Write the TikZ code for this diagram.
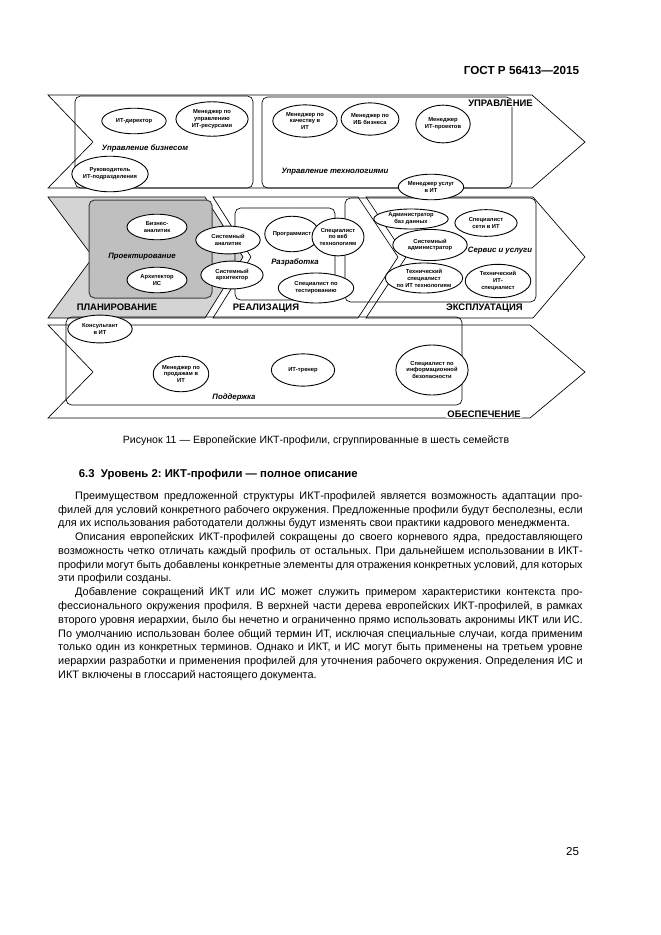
\documentclass[tikz,border=0pt]{standalone}
\usepackage{fontspec}
\setmainfont{Liberation Sans}
\usetikzlibrary{shapes.geometric}
\frenchspacing

\begin{document}
\begin{tikzpicture}[x=0.9pt, y=-0.9pt,
  band/.style={draw, line width=0.6pt, fill=white},
  planband/.style={band, fill=black!17},
  fambox/.style={draw, line width=0.6pt, rounded corners=5pt},
  designbox/.style={fambox, fill=black!25, draw=black!75, line width=0.9pt},
  prof/.style={ellipse, draw, fill=white, line width=0.8pt, inner sep=0pt,
               align=center, font=\fontsize{5.2}{6.2}\selectfont\bfseries},
  famlabel/.style={font=\fontsize{7}{8}\selectfont\bfseries\itshape},
  phase/.style={font=\fontsize{8.5}{9}\selectfont\bfseries, inner sep=1pt},
  bodytext/.style={text width=472pt, inner sep=0pt, align=justify,
                   font=\fontsize{9.8}{12.4}\selectfont},
]
\useasboundingbox (0,0) rectangle (661,935);

% page header
\node[anchor=east, font=\fontsize{10.5}{12}\selectfont\bfseries] (hdr) at (583,70) {ГОСТ Р 56413—2015};

% phase bands
\draw[band] (48,95) -- (532,95) -- (585,142) -- (532,188) -- (48,188) -- (93,142) -- cycle;
\draw[planband] (48,197) -- (205,197) -- (243,257) -- (205,318) -- (48,318) -- (93,257) -- cycle;
\draw[band] (213,197) -- (358,197) -- (398,257) -- (358,318) -- (213,318) -- (251,257) -- cycle;
\draw[band] (366,197) -- (533,197) -- (585,257) -- (533,318) -- (366,318) -- (406,257) -- cycle;
\draw[band] (48,325) -- (530,325) -- (585,372) -- (530,418) -- (48,418) -- (93,372) -- cycle;

% family boxes
\draw[fambox] (75,96) rectangle (253,188);
\draw[fambox] (262,97) rectangle (512,188);
\draw[designbox] (89,200) rectangle (212,298);
\draw[fambox] (235,208) rectangle (335,300);
\draw[fambox] (345,198) rectangle (536,302);
\draw[fambox] (66,317) rectangle (462,405);

% family and phase labels
\node[famlabel] (fbiz) at (145,148) {Управление бизнесом};
\node[famlabel] (ftech) at (335,172) {Управление технологиями};
\node[famlabel] (fdes) at (142,257) {Проектирование};
\node[famlabel] (fdev) at (295,262) {Разработка};
\node[famlabel] (fops) at (500,251) {Сервис и услуги};
\node[famlabel] (fsup) at (234,397) {Поддержка};

\node[phase, fill=white, anchor=east] (pupr) at (534,103) {УПРАВЛЕНИЕ};
\node[phase] (pplan) at (117,307) {ПЛАНИРОВАНИЕ};
\node[phase, fill=white] (preal) at (266,308) {РЕАЛИЗАЦИЯ};
\node[phase, fill=white, anchor=east] (pexpl) at (524,308) {ЭКСПЛУАТАЦИЯ};
\node[phase, fill=white, anchor=east] (pobes) at (522,414) {ОБЕСПЕЧЕНИЕ};

% profiles: management
\node[prof, minimum width=58pt, minimum height=23pt] (cio) at (134,121) {ИТ-директор};
\node[prof, minimum width=65pt, minimum height=31pt] (resmgr) at (212,119) {Менеджер по\\управлению\\ИТ-ресурсами};
\node[prof, minimum width=59pt, minimum height=32pt] (ithead) at (110,174) {Руководитель\\ИТ-подразделения};
\node[prof, minimum width=58pt, minimum height=29pt] (qamgr) at (305,121) {Менеджер по\\качеству в\\ИТ};
\node[prof, minimum width=52pt, minimum height=29pt] (secmgr) at (370,119) {Менеджер по\\ИБ бизнеса};
\node[prof, minimum width=49pt, minimum height=34pt] (projmgr) at (443,124) {Менеджер\\ИТ-проектов};
\node[prof, minimum width=43pt, minimum height=23pt] (svcmgr) at (431,187) {Менеджер услуг\\в ИТ};

% profiles: planning and development
\node[prof, minimum width=54pt, minimum height=23pt] (busan) at (157,227) {Бизнес-\\аналитик};
\node[prof, minimum width=54pt, minimum height=23pt] (isarch) at (157,280) {Архитектор\\ИС};
\node[prof, minimum width=58pt, minimum height=25pt] (sysan) at (228,240) {Системный\\аналитик};
\node[prof, minimum width=56pt, minimum height=25pt] (sysarch) at (232,275) {Системный\\архитектор};
\node[prof, minimum width=36pt, minimum height=32pt] (devel) at (292,234) {Программист};
\node[prof, minimum width=43pt, minimum height=34pt] (websp) at (338,237) {Специалист\\по веб\\технологиям};
\node[prof, minimum width=68pt, minimum height=27pt] (testsp) at (316,288) {Специалист по\\тестированию};

% profiles: operation
\node[prof, minimum width=67pt, minimum height=18pt] (dbadm) at (411,219) {Администратор\\баз данных};
\node[prof, minimum width=56pt, minimum height=24pt] (netsp) at (486,223) {Специалист\\сети в ИТ};
\node[prof, minimum width=67pt, minimum height=28pt] (sysadm) at (430,245) {Системный\\администратор};
\node[prof, minimum width=61pt, minimum height=27pt] (techsp) at (424,278) {Технический\\специалист\\по ИТ технологиям};
\node[prof, minimum width=59pt, minimum height=30pt] (itsp) at (498,281) {Технический\\ИТ-\\специалист};

% profiles: support
\node[prof, minimum width=58pt, minimum height=25pt] (consult) at (100,329) {Консультант\\в ИТ};
\node[prof, minimum width=50pt, minimum height=32pt] (salesmgr) at (181,374) {Менеджер по\\продажам в\\ИТ};
\node[prof, minimum width=57pt, minimum height=29pt] (trainer) at (303,370) {ИТ-тренер};
\node[prof, minimum width=61pt, minimum height=45pt] (secsp) at (432,370) {Специалист по\\информационной\\безопасности};

% caption and text
\node[font=\fontsize{9.5}{11}\selectfont] (cap) at (316,441)
  {Рисунок 11 — Европейские ИКТ-профили, сгруппированные в шесть семейств};
\node[anchor=west, font=\fontsize{10.2}{12}\selectfont\bfseries] (sec) at (75,475)
  {6.3\ \ Уровень 2: ИКТ-профили — полное описание};
\node[bodytext, anchor=north west] (txt) at (58,491) {%
\spaceskip=0.27em plus 0.6em minus 0.1em\relax
\hspace*{15.3pt}Преимуществом предложенной структуры ИКТ-профилей является возможность адаптации про-\linebreak
филей для условий конкретного рабочего окружения. Предложенные профили будут бесполезны, если\linebreak
для их использования работодатели должны будут изменять свои практики кадрового менеджмента.\par
\hspace*{15.3pt}Описания европейских ИКТ-профилей сокращены до своего корневого ядра, предоставляющего\linebreak
возможность четко отличать каждый профиль от остальных. При дальнейшем использовании в ИКТ-\linebreak
профили могут быть добавлены конкретные элементы для отражения конкретных условий, для которых\linebreak
эти профили созданы.\par
\hspace*{15.3pt}Добавление сокращений ИКТ или ИС может служить примером характеристики контекста про-\linebreak
фессионального окружения профиля. В верхней части дерева европейских ИКТ-профилей, в рамках\linebreak
второго уровня иерархии, было бы нечетно и ограниченно прямо использовать акронимы ИКТ или ИС.\linebreak
По умолчанию использован более общий термин ИТ, исключая специальные случаи, когда применим\linebreak
только один из конкретных терминов. Однако и ИКТ, и ИС могут быть применены на третьем уровне\linebreak
иерархии разработки и применения профилей для уточнения рабочего окружения. Определения ИС и\linebreak
ИКТ включены в глоссарий настоящего документа.};

% page number
\node[anchor=east, font=\fontsize{10.4}{12}\selectfont] (pgno) at (583,852) {25};
\end{tikzpicture}
\end{document}
